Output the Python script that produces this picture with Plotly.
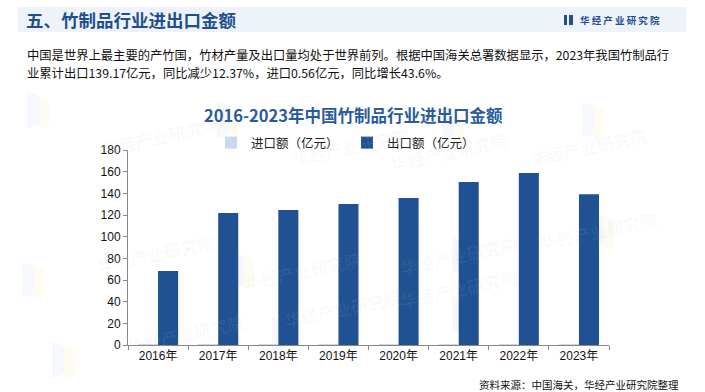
import plotly.graph_objects as go

years = ["2016年", "2017年", "2018年", "2019年", "2020年", "2021年", "2022年", "2023年"]
import_vals = [0.6, 0.7, 0.8, 0.7, 0.5, 0.6, 0.39, 0.56]
export_vals = [68.3, 121.8, 124.6, 130.2, 135.7, 150.5, 158.8, 139.17]
y_ticks = [0, 20, 40, 60, 80, 100, 120, 140, 160, 180]

DARK = "#1F5193"
LIGHT = "#C6D9F0"
TITLE_C = "#2A5B9C"
CJK = "Noto Sans CJK SC, Noto Sans, sans-serif"
LAT = "Liberation Sans, Arial, Noto Sans CJK SC, sans-serif"

PL, PR, PT, PB = 128, 609, 150, 345
PW, PH = PR - PL, PB - PT


def px(x):
    return (x - PL) / PW


def py(y):
    return (PB - y) / PH


fig = go.Figure()
fig.add_trace(go.Bar(x=years, y=import_vals, name="进口额（亿元）", marker_color=LIGHT,
                     marker_line_width=0))
fig.add_trace(go.Bar(x=years, y=export_vals, name="出口额（亿元）", marker_color=DARK,
                     marker_line_width=0))

fig.update_layout(
    width=705, height=392,
    margin=dict(l=PL, r=705 - PR, t=PT, b=392 - PB, autoexpand=False),
    paper_bgcolor="white", plot_bgcolor="rgba(0,0,0,0)",
    barmode="group", bargap=0.333, bargroupgap=0,
    showlegend=True,
    legend=dict(orientation="h", x=px(211), xanchor="left", y=py(143), yanchor="middle",
                font=dict(family=CJK, size=12.5, color="#222"),
                entrywidth=91, entrywidthmode="pixels",
                traceorder="normal", bgcolor="rgba(0,0,0,0)"),
    font=dict(family=LAT, size=12, color="#111"),
)

fig.update_xaxes(showline=True, linecolor="#888", linewidth=1, ticks="outside",
                 tickson="boundaries", ticklen=4, tickcolor="#888",
                 tickfont=dict(family=LAT, size=12, color="#111"), showgrid=False)
fig.update_yaxes(range=[0, 180], tickvals=y_ticks, showline=True, linecolor="#888",
                 linewidth=1, ticks="outside", ticklen=4, tickcolor="#888",
                 tickfont=dict(family=LAT, size=12, color="#111"), showgrid=False,
                 zeroline=False)

shapes = []
# header band
shapes.append(dict(type="rect", xref="paper", yref="paper", layer="below",
                   x0=px(18), x1=px(686), y0=py(32), y1=py(7),
                   fillcolor="#EEF3FA", line_width=0))
# logo bars
for x0, x1 in [(564, 567), (569, 573)]:
    shapes.append(dict(type="rect", xref="paper", yref="paper",
                       x0=px(x0), x1=px(x1), y0=py(25), y1=py(15),
                       fillcolor="#1F4F8F", line_width=0))

# watermark parallelograms (faint)
wm_pos = [(35, 110), (225, 120), (450, 125), (590, 120), (30, 280), (240, 270),
          (460, 255), (600, 230), (60, 360), (280, 335), (460, 315)]
for (wx, wy) in wm_pos:
    shapes.append(dict(type="path", xref="paper", yref="paper", layer="below",
                       path="M {a},{b} L {c},{d} L {e},{f} L {g},{h} Z".format(
                           a=px(wx - 8), b=py(wy + 18), c=px(wx + 4), d=py(wy + 14),
                           e=px(wx + 4), f=py(wy - 14), g=px(wx - 8), h=py(wy - 18)),
                       fillcolor="rgba(190,210,240,0.15)", line_width=0))
    shapes.append(dict(type="path", xref="paper", yref="paper", layer="below",
                       path="M {a},{b} L {c},{d} L {e},{f} L {g},{h} Z".format(
                           a=px(wx + 4), b=py(wy + 20), c=px(wx + 14), d=py(wy + 16),
                           e=px(wx + 14), f=py(wy - 10), g=px(wx + 4), h=py(wy - 14)),
                       fillcolor="rgba(250,235,170,0.18)", line_width=0))

annotations = []
for (wx, wy) in wm_pos:
    annotations.append(dict(xref="paper", yref="paper", x=px(wx + 62), y=py(wy),
                            text="华经产业研究院", showarrow=False, textangle=-12,
                            font=dict(family=CJK, size=17, color="rgba(200,200,200,0.13)")))


def A(x, y, text, size, color="#111", anchor="left", bold=False, family=CJK):
    if bold:
        text = "<b>" + text + "</b>"
    annotations.append(dict(xref="paper", yref="paper", x=px(x), y=py(y),
                            xanchor=anchor, yanchor="middle",
                            text=text, showarrow=False, align="left",
                            font=dict(family=family, size=size, color=color)))


A(24, 20, "五、竹制品行业进出口金额", 17.5, color="#1F4F8F", bold=True)
A(578, 20, "华 经 产 业 研 究 院", 9.5, color="#1F4F8F", bold=True)
A(25, 55, "中国是世界上最主要的产竹国，竹材产量及出口量均处于世界前列。根据中国海关总署数据显示，2023年我国竹制品行", 12.3)
A(25, 73, "业累计出口139.17亿元，同比减少12.37%，进口0.56亿元，同比增长43.6%。", 12.3)
A(353, 115, "2016-2023年中国竹制品行业进出口金额", 16.5, color=TITLE_C, bold=True, anchor="center")
A(681, 384, "资料来源：中国海关，华经产业研究院整理", 10.5, anchor="right")

fig.update_layout(shapes=shapes, annotations=annotations)
fig.write_html("out.html", config={"displayModeBar": False},
               post_script="document.body.style.margin='0';document.body.style.overflow='hidden';")
